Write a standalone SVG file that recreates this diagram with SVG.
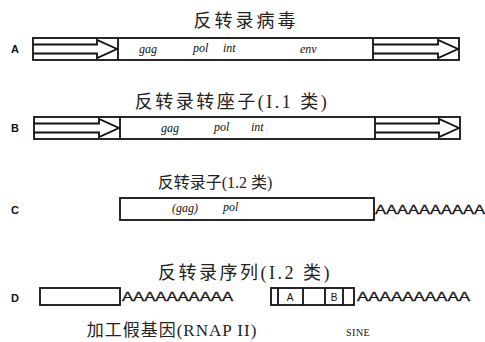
<svg xmlns="http://www.w3.org/2000/svg" width="485" height="342" viewBox="0 0 485 342">
<style>
.title{font-family:"Liberation Serif","Noto Sans CJK SC",serif;font-size:17px;fill:#222;text-anchor:middle}
.lab{font-family:"Liberation Sans",sans-serif;font-size:11px;font-weight:bold;fill:#111}
.gene{font-family:"Liberation Serif",serif;font-style:italic;font-size:12px;fill:#111}
.poly{font-family:"Liberation Sans",sans-serif;font-size:12px;fill:#111;stroke:#111;stroke-width:0.3}
.box{fill:#fff;stroke:#111;stroke-width:1.8}
.ln{fill:none;stroke:#111;stroke-width:1.8}
.small{font-family:"Liberation Serif",serif;font-size:10px;fill:#111;letter-spacing:0.5px}
.cell{font-family:"Liberation Sans",sans-serif;font-size:10px;fill:#111;text-anchor:middle}
</style>
<rect width="485" height="342" fill="#fff"/>
<g id="titleA"><text class="title" x="246" y="27" style="font-size:18px;letter-spacing:3px">反转录病毒</text></g>
<g id="nodeA">
<text class="lab" x="11" y="53">A</text>
<rect class="box" x="33" y="38" width="426" height="22"/>
<line class="ln" x1="118" y1="38" x2="118" y2="60"/>
<line class="ln" x1="373" y1="38" x2="373" y2="60"/>
<path class="ln" d="M33,44.5 H97 V40 L117,49 L97,58 V53.5 H33"/>
<path class="ln" d="M373,44.5 H438 V40 L458,49 L438,58 V53.5 H373"/>
<text class="gene" x="139" y="53">gag</text>
<text class="gene" x="193" y="52">pol</text>
<text class="gene" x="223" y="52">int</text>
<text class="gene" x="300" y="53">env</text>
</g>
<g id="titleB"><text class="title" x="232" y="108" style="font-size:18px;letter-spacing:2.5px">反转录转座子(I.1 类)</text></g>
<g id="nodeB">
<text class="lab" x="11" y="132">B</text>
<rect class="box" x="34" y="117" width="426" height="22"/>
<line class="ln" x1="120" y1="117" x2="120" y2="139"/>
<line class="ln" x1="375" y1="117" x2="375" y2="139"/>
<path class="ln" d="M34,123.5 H99 V119 L119,128 L99,137 V132.5 H34"/>
<path class="ln" d="M375,123.5 H439 V119 L459,128 L439,137 V132.5 H375"/>
<text class="gene" x="161" y="132">gag</text>
<text class="gene" x="214" y="131">pol</text>
<text class="gene" x="251" y="131">int</text>
</g>
<g id="titleC"><text class="title" x="215" y="188" style="font-size:16px">反转录子(1.2 类)</text></g>
<g id="nodeC">
<text class="lab" x="11" y="214">C</text>
<rect class="box" x="120" y="198" width="254" height="22"/>
<text class="gene" x="172" y="212">(gag)</text>
<text class="gene" x="223" y="211">pol</text>
<text class="poly" x="375" y="214" textLength="110" lengthAdjust="spacingAndGlyphs">AAAAAAAAAA</text>
</g>
<g id="titleD"><text class="title" x="245" y="279" style="font-size:18px;letter-spacing:2.5px">反转录序列(I.2 类)</text></g>
<g id="nodeD">
<text class="lab" x="11" y="302">D</text>
<rect class="box" x="40" y="288" width="80" height="17"/>
<text class="poly" x="122" y="301" textLength="111" lengthAdjust="spacingAndGlyphs">AAAAAAAAAA</text>
<rect class="box" x="271" y="288" width="83" height="17" stroke-width="1.2"/>
<path class="ln" stroke-width="1.2" d="M278,288 V305 M303,288 V305 M325,288 V305 M343,288 V305"/>
<text class="cell" x="290" y="301">A</text>
<text class="cell" x="334" y="301">B</text>
<text class="poly" x="357" y="301" textLength="113" lengthAdjust="spacingAndGlyphs">AAAAAAAAAA</text>
<text class="title" x="172" y="336" style="font-size:17px;letter-spacing:1px">加工假基因(RNAP II)</text>
<text class="small" x="346" y="336">SINE</text>
</g>
</svg>
